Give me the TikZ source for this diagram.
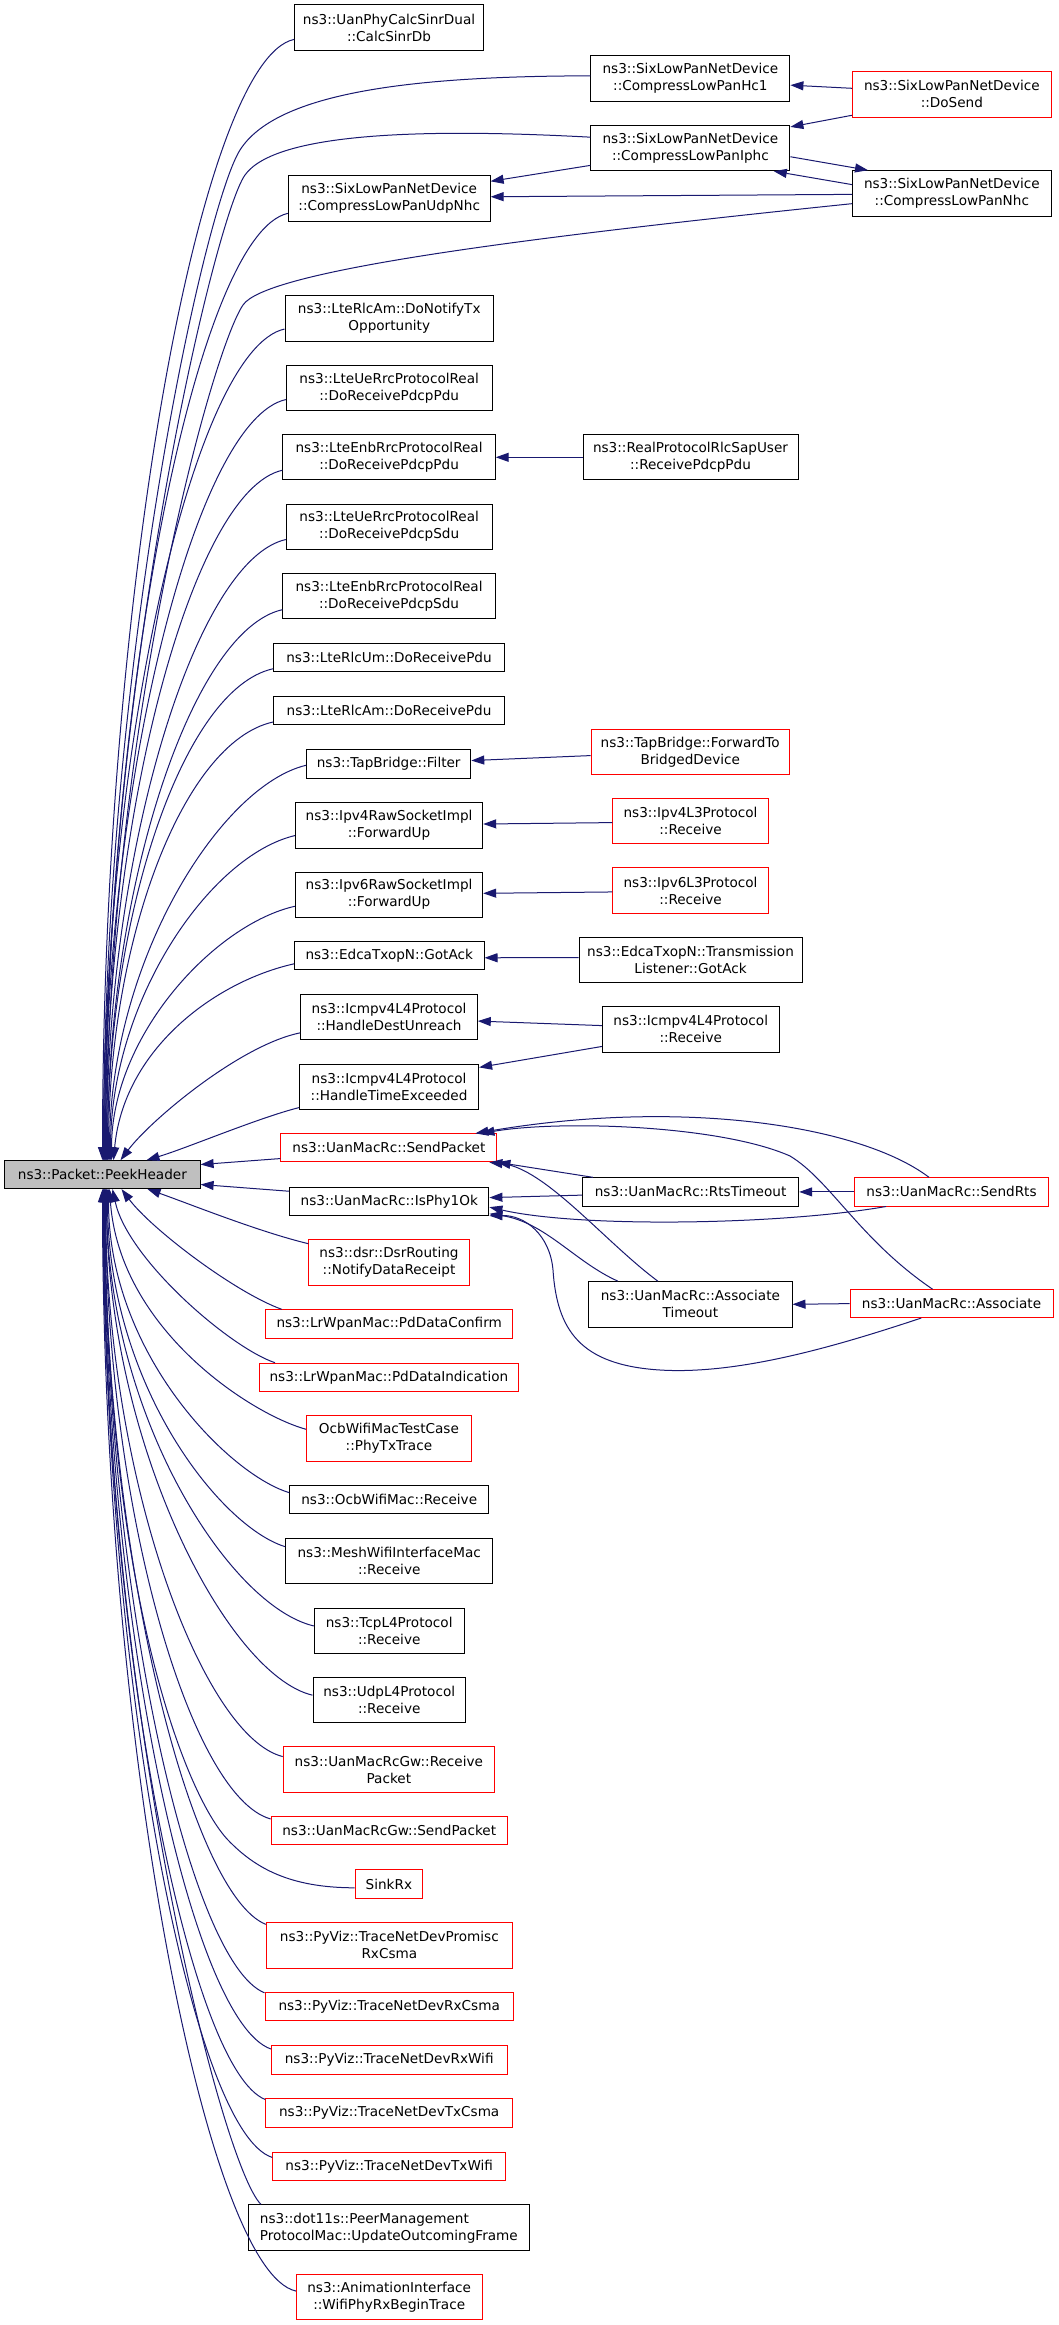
\documentclass[tikz,border=0pt]{standalone}
\usepackage{fontspec}
\setmainfont{DejaVu Sans}
\usetikzlibrary{arrows.meta,calc}
\definecolor{edgeblue}{HTML}{191970}
\definecolor{nodered}{HTML}{FF0000}
\definecolor{peekgray}{HTML}{BFBFBF}
\tikzset{
  nbox/.style={draw=black, fill=white, line width=1pt, inner sep=1pt, align=center,
    font=\fontsize{13.6}{17}\selectfont},
  rbox/.style={nbox, draw=nodered},
  gbox/.style={nbox, fill=peekgray},
  cedge/.style={draw=edgeblue, line width=1pt, -{Triangle[length=13pt,width=9pt]}}
}
\newcommand\mknode[7]{%
  \pgfmathsetmacro\mkcx{(#3+#4)/2}%
  \pgfmathsetmacro\mkcy{(#5+#6)/2}%
  \pgfmathsetmacro\mkw{#4-#3}%
  \pgfmathsetmacro\mkh{#6-#5}%
  \node[#1, minimum width=\mkw pt, minimum height=\mkh pt] (#2) at (\mkcx,\mkcy) {#7};}
\newcommand\tedge[5]{\draw[cedge] ($(#1.north west)!#2!(#1.south west)$) .. controls +(#3) and +(#4) .. ($(peek.north west)+(#5,0)$);}
\newcommand\bedge[5]{\draw[cedge] ($(#1.north west)!#2!(#1.south west)$) .. controls +(#3) and +(#4) .. ($(peek.south west)+(#5,0)$);}
\begin{document}
\begin{tikzpicture}[x=1pt,y=-1pt]
\useasboundingbox (0,0) rectangle (1059,2325);
\fill[white] (0,0) rectangle (1059,2325);
% ---------- nodes ----------
\mknode{gbox}{peek}{4.7}{200.1}{1160.7}{1188.6}{ns3::Packet::PeekHeader}
\mknode{nbox}{calc}{294.7}{483.4}{5}{50.5}{ns3::UanPhyCalcSinrDual\\::CalcSinrDb}
\mknode{nbox}{udpnhc}{288.3}{490.1}{176}{221.2}{ns3::SixLowPanNetDevice\\::CompressLowPanUdpNhc}
\mknode{nbox}{notify}{285}{493.5}{295.8}{341}{ns3::LteRlcAm::DoNotifyTx\\Opportunity}
\mknode{nbox}{uepdu}{286.3}{492.1}{365.5}{410.6}{ns3::LteUeRrcProtocolReal\\::DoReceivePdcpPdu}
\mknode{nbox}{enbpdu}{282.9}{495.2}{434.7}{479.9}{ns3::LteEnbRrcProtocolReal\\::DoReceivePdcpPdu}
\mknode{nbox}{uesdu}{286.3}{492.1}{504}{549.2}{ns3::LteUeRrcProtocolReal\\::DoReceivePdcpSdu}
\mknode{nbox}{enbsdu}{282.9}{495.2}{573.3}{618.4}{ns3::LteEnbRrcProtocolReal\\::DoReceivePdcpSdu}
\mknode{nbox}{rlcum}{273.4}{504.6}{643.2}{671.2}{ns3::LteRlcUm::DoReceivePdu}
\mknode{nbox}{rlcam}{273.4}{504.6}{696.8}{724.4}{ns3::LteRlcAm::DoReceivePdu}
\mknode{nbox}{filter}{306.6}{470.8}{749.6}{778}{ns3::TapBridge::Filter}
\mknode{nbox}{ipvfourraw}{295.4}{482.7}{802.8}{848}{ns3::Ipv4RawSocketImpl\\::ForwardUp}
\mknode{nbox}{ipvsixraw}{295.4}{482.7}{872.1}{917.3}{ns3::Ipv6RawSocketImpl\\::ForwardUp}
\mknode{nbox}{gotack}{294.4}{484}{941.8}{969.7}{ns3::EdcaTxopN::GotAck}
\mknode{nbox}{destun}{300.8}{477.3}{994.6}{1039.7}{ns3::Icmpv4L4Protocol\\::HandleDestUnreach}
\mknode{nbox}{timeex}{299.5}{478.6}{1064.2}{1109.4}{ns3::Icmpv4L4Protocol\\::HandleTimeExceeded}
\mknode{rbox}{sendpkt}{280.9}{496.9}{1133.9}{1161.8}{ns3::UanMacRc::SendPacket}
\mknode{nbox}{isphy}{289.7}{488.9}{1187.4}{1215.3}{ns3::UanMacRc::IsPhy1Ok}
\mknode{rbox}{dsr}{308.8}{469.2}{1239.5}{1285.2}{ns3::dsr::DsrRouting\\::NotifyDataReceipt}
\mknode{rbox}{pdconf}{265.7}{512.7}{1309.8}{1338}{ns3::LrWpanMac::PdDataConfirm}
\mknode{rbox}{pdind}{259.2}{518.6}{1363.2}{1391.4}{ns3::LrWpanMac::PdDataIndication}
\mknode{rbox}{ocbtest}{306.6}{471.2}{1415.8}{1461.4}{OcbWifiMacTestCase\\::PhyTxTrace}
\mknode{nbox}{ocbrecv}{289.7}{488.7}{1485.5}{1513.8}{ns3::OcbWifiMac::Receive}
\mknode{nbox}{mesh}{285.6}{492.8}{1538.3}{1583.9}{ns3::MeshWifiInterfaceMac\\::Receive}
\mknode{nbox}{tcp}{314.3}{464.1}{1608}{1653.1}{ns3::TcpL4Protocol\\::Receive}
\mknode{nbox}{udp}{313}{465.4}{1677.2}{1722.4}{ns3::UdpL4Protocol\\::Receive}
\mknode{rbox}{gwrecv}{283.2}{494.5}{1746.9}{1792}{ns3::UanMacRcGw::Receive\\Packet}
\mknode{rbox}{gwsend}{271.1}{507.3}{1816.5}{1844.7}{ns3::UanMacRcGw::SendPacket}
\mknode{rbox}{sinkrx}{355.2}{422.5}{1869.7}{1898.2}{SinkRx}
\mknode{rbox}{promisc}{266.3}{512.4}{1922.5}{1968}{ns3::PyViz::TraceNetDevPromisc\\RxCsma}
\mknode{rbox}{rxcsma}{265}{513.4}{1992.4}{2020.5}{ns3::PyViz::TraceNetDevRxCsma}
\mknode{rbox}{rxwifi}{271.4}{507}{2045.6}{2074.4}{ns3::PyViz::TraceNetDevRxWifi}
\mknode{rbox}{txcsma}{265.7}{512.7}{2098.8}{2127.3}{ns3::PyViz::TraceNetDevTxCsma}
\mknode{rbox}{txwifi}{272.8}{505.6}{2152.3}{2180.8}{ns3::PyViz::TraceNetDevTxWifi}
\mknode{nbox,align=left}{dotelevens}{248.4}{529.3}{2204.8}{2250.7}{ns3::dot11s::PeerManagement\\ProtocolMac::UpdateOutcomingFrame}
\mknode{rbox}{anim}{296.4}{482}{2274.3}{2319.8}{ns3::AnimationInterface\\::WifiPhyRxBeginTrace}
\mknode{nbox}{hcone}{590.9}{789.9}{55.9}{101.4}{ns3::SixLowPanNetDevice\\::CompressLowPanHc1}
\mknode{rbox}{dosend}{852.5}{1051.2}{71.6}{117.1}{ns3::SixLowPanNetDevice\\::DoSend}
\mknode{nbox}{iphc}{590.9}{789.9}{125.1}{170.7}{ns3::SixLowPanNetDevice\\::CompressLowPanIphc}
\mknode{nbox}{nhc}{852.5}{1051.2}{170.7}{216.2}{ns3::SixLowPanNetDevice\\::CompressLowPanNhc}
\mknode{nbox}{rlcsap}{583}{798}{434.7}{479.9}{ns3::RealProtocolRlcSapUser\\::ReceivePdcpPdu}
\mknode{rbox}{fwdbridge}{591.2}{789.3}{729.1}{774.6}{ns3::TapBridge::ForwardTo\\BridgedDevice}
\mknode{rbox}{ipvfourlthree}{612.8}{768.3}{798.5}{843.9}{ns3::Ipv4L3Protocol\\::Receive}
\mknode{rbox}{ipvsixlthree}{612.8}{768.3}{867.8}{913.3}{ns3::Ipv6L3Protocol\\::Receive}
\mknode{nbox}{translis}{579}{802.1}{937.2}{982.6}{ns3::EdcaTxopN::Transmission\\Listener::GotAck}
\mknode{nbox}{icmprecv}{602.3}{779.1}{1006.6}{1052}{ns3::Icmpv4L4Protocol\\::Receive}
\mknode{nbox}{rtstimeout}{582.4}{798.7}{1177.8}{1206}{ns3::UanMacRc::RtsTimeout}
\mknode{rbox}{sendrts}{854.5}{1048.5}{1177.8}{1206}{ns3::UanMacRc::SendRts}
\mknode{nbox}{assoctimeout}{588.8}{792}{1281.6}{1327}{ns3::UanMacRc::Associate\\Timeout}
\mknode{rbox}{associate}{850.1}{1053}{1289.7}{1317.5}{ns3::UanMacRc::Associate}
% ---------- edges into PeekHeader (top) ----------
\tedge{calc}{0.75}{-95,20}{0,-560}{98.3}
\tedge{udpnhc}{0.82}{-90,20}{0,-470}{101.3}
\tedge{notify}{0.73}{-90,20}{0,-415}{99.3}
\tedge{uepdu}{0.75}{-90,20}{0,-380}{100.3}
\tedge{enbpdu}{0.78}{-90,20}{0,-345}{101.3}
\tedge{uesdu}{0.78}{-90,20}{0,-310}{102.3}
\tedge{enbsdu}{0.8}{-90,20}{0,-275}{103.3}
\tedge{rlcum}{0.9}{-90,20}{0,-245}{103.3}
\tedge{rlcam}{0.9}{-90,20}{0,-220}{104.3}
\tedge{filter}{0.55}{-85,20}{0,-200}{105.3}
\tedge{ipvfourraw}{0.72}{-85,20}{0,-160}{106.3}
\tedge{ipvsixraw}{0.75}{-80,18}{0,-125}{107.3}
\tedge{gotack}{0.78}{-80,18}{10,-110}{109.3}
\tedge{destun}{0.84}{-60,12}{30,-40}{116.3}
\tedge{timeex}{0.95}{-40,10}{40,-12}{142.3}
\draw[cedge] ($(hcone.north west)!0.44!(hcone.south west)$) .. controls (400,76) and (275,95) .. (240,150)
  .. controls (205,205) and ($(peek.north west)+(99.3,-500)$) .. ($(peek.north west)+(99.3,0)$);
\draw[cedge] ($(iphc.north west)!0.27!(iphc.south west)$) .. controls (420,128) and (275,133) .. (245,175)
  .. controls (215,217) and ($(peek.north west)+(100.3,-480)$) .. ($(peek.north west)+(100.3,0)$);
\draw[cedge] ($(nhc.north west)!0.72!(nhc.south west)$) .. controls (500,240) and (265,272) .. (243,305)
  .. controls (210,354) and ($(peek.north west)+(102.3,-420)$) .. ($(peek.north west)+(102.3,0)$);
% ---------- edges into PeekHeader (side) ----------
\draw[cedge] ($(sendpkt.north west)!0.87!(sendpkt.south west)$) -- ($(peek.north east)!0.15!(peek.south east)$);
\draw[cedge] ($(isphy.north west)!0.15!(isphy.south west)$) -- ($(peek.north east)!0.84!(peek.south east)$);
% ---------- edges into PeekHeader (bottom) ----------
\bedge{dsr}{0.1}{-50,-12}{40,14}{143.3}
\draw[cedge] ($(pdconf.north west)+(16.5,0)$) .. controls +(-47,-17) and +(30,40) .. ($(peek.south west)+(117.3,0)$);
\draw[cedge] ($(pdind.north west)+(16.3,0)$) .. controls +(-45,-15) and +(15,70) .. ($(peek.south west)+(108.3,0)$);
\bedge{ocbtest}{0.3}{-55,-15}{10,140}{105.3}
\bedge{ocbrecv}{0.26}{-60,-18}{0,165}{104.3}
\bedge{mesh}{0.19}{-65,-20}{0,195}{103.3}
\bedge{tcp}{0.4}{-85,-20}{0,225}{102.3}
\bedge{udp}{0.4}{-85,-20}{0,255}{102.3}
\bedge{gwrecv}{0.22}{-80,-20}{0,290}{101.3}
\bedge{gwsend}{0.1}{-80,-22}{0,320}{101.3}
\draw[cedge] ($(sinkrx.north west)!0.63!(sinkrx.south west)$) .. controls +(-65,0) and (255,1868) .. (228,1840)
  .. controls (185,1795) and ($(peek.south west)+(100.8,400)$) .. ($(peek.south west)+(100.8,0)$);
\bedge{promisc}{0.05}{-75,-30}{0,370}{100.3}
\bedge{rxcsma}{0.03}{-75,-30}{0,400}{100.3}
\bedge{rxwifi}{0.13}{-80,-28}{0,430}{99.8}
\bedge{txcsma}{0.04}{-75,-30}{0,460}{99.3}
\bedge{txwifi}{0.19}{-80,-25}{0,490}{99.3}
\draw[cedge] ($(dotelevens.north west)+(13,0)$) .. controls +(-40,-40) and +(0,510) .. ($(peek.south west)+(98.8,0)$);
\bedge{anim}{0.37}{-90,-20}{0,550}{98.3}
% ---------- SixLowPan group ----------
\draw[cedge] ($(dosend.north west)!0.37!(dosend.south west)$) -- ($(hcone.north east)!0.64!(hcone.south east)$);
\draw[cedge] ($(dosend.north west)!0.95!(dosend.south west)$) -- ($(iphc.north east)!0.05!(iphc.south east)$);
\draw[cedge] ($(iphc.north east)!0.69!(iphc.south east)$) -- ($(nhc.north west)+(16,0)$);
\draw[cedge] ($(nhc.north west)!0.31!(nhc.south west)$) -- ($(iphc.south east)+(-16.6,0)$);
\draw[cedge] ($(nhc.north west)!0.52!(nhc.south west)$) -- ($(udpnhc.north east)!0.46!(udpnhc.south east)$);
\draw[cedge] ($(iphc.north west)!0.875!(iphc.south west)$) -- ($(udpnhc.north east)!0.126!(udpnhc.south east)$);
% ---------- middle group ----------
\draw[cedge] (rlcsap.west) -- (enbpdu.east);
\draw[cedge] ($(fwdbridge.north west)!0.58!(fwdbridge.south west)$) -- ($(filter.north east)!0.39!(filter.south east)$);
\draw[cedge] ($(ipvfourlthree.north west)!0.53!(ipvfourlthree.south west)$) -- ($(ipvfourraw.north east)!0.47!(ipvfourraw.south east)$);
\draw[cedge] ($(ipvsixlthree.north west)!0.53!(ipvsixlthree.south west)$) -- ($(ipvsixraw.north east)!0.47!(ipvsixraw.south east)$);
\draw[cedge] ($(translis.north west)!0.45!(translis.south west)$) -- ($(gotack.north east)!0.57!(gotack.south east)$);
\draw[cedge] ($(icmprecv.north west)!0.42!(icmprecv.south west)$) -- ($(destun.north east)!0.585!(destun.south east)$);
\draw[cedge] ($(icmprecv.north west)!0.87!(icmprecv.south west)$) -- ($(timeex.north east)!0.08!(timeex.south east)$);
% ---------- UanMacRc group ----------
\draw[cedge] (sendrts.west) -- (rtstimeout.east);
\draw[cedge] (associate.west) -- (assoctimeout.east);
\draw[cedge] ($(rtstimeout.north west)!0.61!(rtstimeout.south west)$) -- ($(isphy.north east)!0.37!(isphy.south east)$);
\draw[cedge] ($(rtstimeout.north west)+(11,0)$) -- (sendpkt.south east);
\draw[cedge] ($(assoctimeout.north west)+(69.5,0)$) .. controls (605,1242) and (545,1168) .. ($(sendpkt.south east)+(-8,0)$);
\draw[cedge] ($(sendrts.north west)+(75,0)$) .. controls (860,1125) and (680,1098) .. ($(sendpkt.north east)+(-22,0)$);
\draw[cedge] ($(associate.north west)+(83,0)$) .. controls (860,1240) and (830,1180) .. (790,1156)
  .. controls (720,1125) and (560,1120) .. ($(sendpkt.north east)+(-16,0)$);
\draw[cedge] ($(sendrts.south west)+(32,0)$) .. controls (780,1225) and (580,1228) .. ($(isphy.north east)!0.7!(isphy.south east)$);
\draw[cedge] ($(assoctimeout.north west)+(29.5,0)$) .. controls (575,1262) and (545,1222) .. ($(isphy.south east)+(0,-2)$);
\draw[cedge] ($(associate.south west)+(71.7,0)$) .. controls (840,1345) and (740,1375) .. (660,1370)
  .. controls (580,1365) and (557,1330) .. (553,1270)
  .. controls (550,1235) and (525,1215) .. (isphy.south east);
\end{tikzpicture}
\end{document}
